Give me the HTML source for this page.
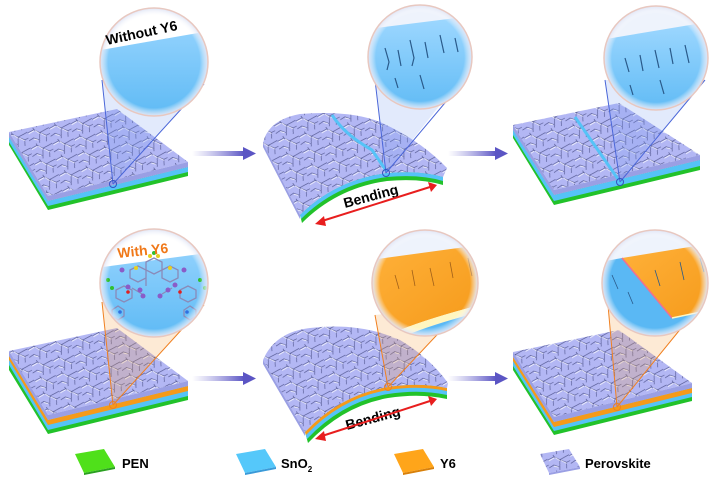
<!DOCTYPE html>
<html><head><meta charset="utf-8"><style>
html,body{margin:0;padding:0;background:#fff;}
svg{display:block;font-family:"Liberation Sans",Arial,sans-serif;}
</style></head><body>
<svg width="724" height="483" viewBox="0 0 724 483" xmlns="http://www.w3.org/2000/svg">
<defs>
<pattern id="crk" width="22" height="16" patternUnits="userSpaceOnUse" patternTransform="rotate(-12)">
<rect width="22" height="16" fill="#b3b7f4"/>
<path d="M0 4 L7 2 L12 6 L22 3 M7 2 L6 -1 M12 6 L10 16 M12 6 L18 10 L22 9 M18 10 L17 16 M0 12 L5 10 L10 13" stroke="#4a4f88" stroke-width="0.6" fill="none"/>
<path d="M1 5 L7 3 M13 7 L18 11 M5 11 L9 13 M8 3 L12 7" stroke="#fff" stroke-width="0.8" fill="none" opacity="0.9"/>
</pattern>
<linearGradient id="arr" x1="0" x2="1"><stop offset="0" stop-color="#8a86d8" stop-opacity="0"/><stop offset="1" stop-color="#5b55c4"/></linearGradient>
<linearGradient id="blu" x1="0" y1="0" x2="0" y2="1"><stop offset="0" stop-color="#9fd8ff"/><stop offset="1" stop-color="#5ab8f4"/></linearGradient>
<linearGradient id="org" x1="0" y1="0" x2="1" y2="1"><stop offset="0" stop-color="#ffb13a"/><stop offset="1" stop-color="#f59a1a"/></linearGradient>
<radialGradient id="lensrim" cx="0.5" cy="0.5" r="0.5"><stop offset="0.85" stop-color="#fff" stop-opacity="0"/><stop offset="1" stop-color="#dfe4f5"/></radialGradient>
<clipPath id="c1"><circle cx="154" cy="62" r="54"/></clipPath>
<clipPath id="c2"><circle cx="420" cy="57" r="52"/></clipPath>
<clipPath id="c3"><circle cx="656" cy="58" r="52"/></clipPath>
<clipPath id="c4"><circle cx="154" cy="283" r="54"/></clipPath>
<clipPath id="c5"><circle cx="425" cy="283" r="53"/></clipPath>
<clipPath id="c6"><circle cx="655" cy="283" r="53"/></clipPath>
</defs>

<!-- ===== ROW 1 ===== -->
<g transform="translate(0,4)">
<path d="M9 133 L48 197 L188 163 L188 172 L48 206 L9 141Z" fill="#22c22a"/>
<path d="M9 133 L48 197 L188 163 L188 168 L48 202 L9 138Z" fill="#55c3f7"/>
<path d="M9 128 L117 105 L188 158 L48 192Z" fill="url(#crk)"/>
<path d="M9 128 L48 192 L188 158 L188 163 L48 197 L9 133Z" fill="#9a9fe4"/>
</g>
<path d="M102 80 L113 184 L204 84" fill="#7da0f0" opacity="0.22"/>
<path d="M102 80 L113 184 M204 84 L113 184" stroke="#4a66d8" stroke-width="1"/>
<circle cx="113" cy="184" r="3.5" fill="none" stroke="#3550c0" stroke-width="1"/>
<g clip-path="url(#c1)"><rect x="95" y="5" width="120" height="120" fill="url(#blu)"/><path d="M95 5 L215 5 L215 30 L95 51Z" fill="#fff"/></g>
<circle cx="154" cy="62" r="54" fill="url(#lensrim)" stroke="#e8c8c0" stroke-width="1.5"/>
<text x="107" y="45" font-size="14" font-weight="bold" transform="rotate(-12 107 45)">Without Y6</text>
<rect x="192" y="151" width="52" height="5" fill="url(#arr)"/><path d="M243 147 L256 153.5 L243 160Z" fill="#5b55c4"/>

<!-- bent slab 2 -->
<path d="M300 215 Q335 180 387 173 Q420 170 443 177 L443 185 Q420 178 387 181 Q337 188 302 223Z" fill="#22c22a"/>
<path d="M300 215 Q335 180 387 173 Q420 170 443 177 L443 181 Q420 174 387 177 Q336 184 301 219Z" fill="#55c3f7"/>
<path d="M263 143 Q268 120 300 114 Q350 110 380 122 Q420 140 447 168 L443 177 Q420 170 387 173 Q335 180 300 215 Z" fill="url(#crk)"/>
<path d="M263 143 L300 215 L300 219 L263 147Z" fill="#9a9fe4"/>
<path d="M332 115 Q345 135 372 150 L387 172" stroke="#55c3f7" stroke-width="3" fill="none"/>
<path d="M375 80 L386 173 L460 80" fill="#7da0f0" opacity="0.22"/>
<path d="M375 80 L386 173 M460 85 L386 173" stroke="#4a66d8" stroke-width="1"/>
<circle cx="386" cy="173" r="3.5" fill="none" stroke="#3550c0"/>
<g clip-path="url(#c2)"><rect x="360" y="0" width="120" height="120" fill="#eef3fc"/><path d="M360 30 L480 15 L480 120 L360 120Z" fill="url(#blu)"/>
<path d="M385 48 l4 14 l-2 8 M398 50 l3 16 M410 40 l4 18 l-2 8 M425 42 l3 16 M440 35 l4 18 M455 38 l3 14 M395 78 l3 10 M420 75 l4 14" stroke="#2a5a8a" stroke-width="1.2" fill="none"/></g>
<circle cx="420" cy="57" r="52" fill="url(#lensrim)" stroke="#e8c8c0" stroke-width="1.5"/>
<text x="345" y="208" font-size="14" font-weight="bold" transform="rotate(-15 345 208)">Bending</text>
<path d="M322 221 L430 187" stroke="#e81e1e" stroke-width="2"/><path d="M315 224 L324 216 L326 226Z M437 185 L428 182 L431 192Z" fill="#e81e1e"/>
<rect x="448" y="151" width="48" height="5" fill="url(#arr)"/><path d="M495 147 L508 153.5 L495 160Z" fill="#5b55c4"/>

<!-- slab 3 -->
<g>
<path d="M513 130 L554 195 L700 160 L700 170 L554 205 L513 138Z" fill="#22c22a"/>
<path d="M513 130 L554 195 L700 160 L700 166 L554 201 L513 135Z" fill="#55c3f7"/>
<path d="M513 125 L619 103 L700 155 L554 190Z" fill="url(#crk)"/>
<path d="M513 125 L554 190 L700 155 L700 160 L554 195 L513 130Z" fill="#9a9fe4"/>
<path d="M575 117 L620 182" stroke="#55c3f7" stroke-width="3"/>
</g>
<path d="M605 80 L620 182 L705 80" fill="#7da0f0" opacity="0.22"/>
<path d="M605 80 L620 182 M705 80 L620 182" stroke="#4a66d8" stroke-width="1"/>
<circle cx="620" cy="182" r="3.5" fill="none" stroke="#3550c0"/>
<g clip-path="url(#c3)"><rect x="600" y="0" width="120" height="120" fill="#eef3fc"/><path d="M600 40 L720 20 L720 120 L600 120Z" fill="url(#blu)"/>
<path d="M625 58 l4 14 M640 55 l3 16 M655 50 l4 18 M670 48 l3 16 M685 45 l4 18 M630 85 l3 10 M660 80 l4 14" stroke="#2a5a8a" stroke-width="1.2" fill="none"/></g>
<circle cx="656" cy="58" r="52" fill="url(#lensrim)" stroke="#e8c8c0" stroke-width="1.5"/>

<!-- ===== ROW 2 ===== -->
<g transform="translate(0,8)">
<path d="M9 348 L48 412 L188 378 L188 392 L48 426 L9 362Z" fill="#22c22a"/>
<path d="M9 348 L48 412 L188 378 L188 388 L48 422 L9 357Z" fill="#55c3f7"/>
<path d="M9 348 L48 412 L188 378 L188 383 L48 417 L9 352Z" fill="#f59a1a"/>
<path d="M9 343 L117 320 L188 373 L48 407Z" fill="url(#crk)"/>
<path d="M9 343 L48 407 L188 373 L188 378 L48 412 L9 348Z" fill="#9a9fe4"/>
</g>
<path d="M102 302 L113 405 L204 305" fill="#f7a040" opacity="0.22"/>
<path d="M102 302 L113 405 M204 305 L113 405" stroke="#f08020" stroke-width="1"/>
<circle cx="113" cy="405" r="3.5" fill="none" stroke="#f08020"/>
<g clip-path="url(#c4)"><rect x="95" y="225" width="120" height="120" fill="url(#blu)"/><path d="M95 225 L215 225 L215 252 L95 268Z" fill="#fff"/>
<g stroke="#8a8ab8" stroke-width="1.3" fill="none">
<path d="M130 270 l8 -4 l8 4 l0 8 l-8 4 l-8 -4z M146 262 l8 -4 l8 4 l0 8 l-8 4 l-8 -4z M162 270 l8 -4 l8 4 l0 8 l-8 4 l-8 -4z M146 278 l0 8 M116 290 l8 -4 l8 4 l0 8 l-8 4 l-8 -4z M180 290 l8 -4 l8 4 l0 8 l-8 4 l-8 -4z M112 310 l6 -4 l6 4 l0 6 l-6 4 l-6 -4z M184 310 l6 -4 l6 4 l0 6 l-6 4 l-6 -4z M132 288 l10 6 M172 288 l-10 6"/>
</g>
<g fill="#8a5cc8"><circle cx="122" cy="270" r="2.5"/><circle cx="184" cy="270" r="2.5"/><circle cx="128" cy="287" r="2.5"/><circle cx="140" cy="290" r="2.5"/><circle cx="168" cy="290" r="2.5"/><circle cx="175" cy="285" r="2.5"/><circle cx="143" cy="296" r="2.5"/><circle cx="160" cy="296" r="2.5"/></g>
<g fill="#e8d020"><circle cx="150" cy="256" r="2"/><circle cx="158" cy="256" r="2"/><circle cx="136" cy="268" r="2"/><circle cx="170" cy="268" r="2"/></g>
<g fill="#30c030"><circle cx="154" cy="253" r="2"/><circle cx="108" cy="280" r="2"/><circle cx="112" cy="288" r="2"/><circle cx="200" cy="280" r="2"/><circle cx="205" cy="288" r="2"/></g>
<g fill="#e02020"><circle cx="128" cy="292" r="1.8"/><circle cx="180" cy="292" r="1.8"/></g>
<g fill="#3070e0"><circle cx="120" cy="312" r="1.8"/><circle cx="187" cy="312" r="1.8"/></g>
</g>
<circle cx="154" cy="283" r="54" fill="url(#lensrim)" stroke="#e8c8c0" stroke-width="1.5"/>
<text x="118" y="258" font-size="14" font-weight="bold" fill="#f07818" transform="rotate(-6 118 258)">With Y6</text>
<rect x="192" y="376" width="52" height="5" fill="url(#arr)"/><path d="M243 372 L256 378.5 L243 385Z" fill="#5b55c4"/>

<!-- bent slab row2 -->
<path d="M305 432 Q340 395 388 387 Q420 382 447 388 L447 399 Q420 393 388 398 Q343 406 308 443Z" fill="#22c22a"/>
<path d="M305 432 Q340 395 388 387 Q420 382 447 388 L447 395 Q420 389 388 394 Q342 402 307 439Z" fill="#55c3f7"/>
<path d="M305 432 Q340 395 388 387 Q420 382 447 388 L447 391 Q420 385 388 390 Q341 398 306 435Z" fill="#f59a1a"/>
<path d="M263 360 Q275 332 310 328 Q360 322 400 340 Q430 358 448 383 L447 388 Q420 382 388 387 Q340 395 305 432 Z" fill="url(#crk)"/>
<path d="M263 360 L305 432 L305 436 L263 364Z" fill="#9a9fe4"/>
<path d="M375 315 L388 387 L465 305" fill="#f7a040" opacity="0.22"/>
<path d="M375 315 L388 387 M465 305 L388 387" stroke="#f08020" stroke-width="1"/>
<circle cx="388" cy="387" r="3.5" fill="none" stroke="#f08020"/>
<g clip-path="url(#c5)"><rect x="370" y="228" width="120" height="120" fill="#eef3fc"/>
<path d="M370 260 L480 245 L480 305 Q430 318 400 330 L370 330Z" fill="url(#org)"/>
<path d="M400 330 Q430 318 480 305 L480 312 Q430 325 405 336Z" fill="#fff6c0"/>
<path d="M405 336 Q430 325 480 312 L480 340 L405 340Z" fill="#5ab8f4"/>
<path d="M395 275 l4 14 M412 270 l3 16 M430 268 l4 18 M450 262 l3 16 M468 258 l4 18" stroke="#a0601a" stroke-width="0.8" fill="none"/></g>
<circle cx="425" cy="283" r="53" fill="url(#lensrim)" stroke="#e8c8c0" stroke-width="1.5"/>
<text x="347" y="430" font-size="14" font-weight="bold" transform="rotate(-15 347 430)">Bending</text>
<path d="M322 436 L430 401" stroke="#e81e1e" stroke-width="2"/><path d="M315 439 L324 431 L326 441Z M437 399 L428 396 L431 406Z" fill="#e81e1e"/>
<rect x="448" y="376" width="48" height="5" fill="url(#arr)"/><path d="M495 372 L508 378.5 L495 385Z" fill="#5b55c4"/>

<!-- slab row2 right -->
<g>
<path d="M513 357 L554 422 L692 388 L692 401 L554 435 L513 370Z" fill="#22c22a"/>
<path d="M513 357 L554 422 L692 388 L692 397 L554 431 L513 366Z" fill="#55c3f7"/>
<path d="M513 357 L554 422 L692 388 L692 393 L554 427 L513 361Z" fill="#f59a1a"/>
<path d="M513 352 L619 330 L692 383 L554 417Z" fill="url(#crk)"/>
<path d="M513 352 L554 417 L692 383 L692 388 L554 422 L513 357Z" fill="#9a9fe4"/>
</g>
<path d="M608 305 L617 407 L700 305" fill="#f7a040" opacity="0.22"/>
<path d="M608 305 L617 407 M700 305 L617 407" stroke="#f08020" stroke-width="1"/>
<circle cx="617" cy="407" r="3.5" fill="none" stroke="#f08020"/>
<g clip-path="url(#c6)"><rect x="600" y="228" width="120" height="120" fill="#eef3fc"/>
<path d="M600 262 L622 258 L672 318 L720 308 L720 340 L600 340Z" fill="#5ab8f4"/>
<path d="M622 258 L720 242 L720 308 L672 318Z" fill="url(#org)"/>
<path d="M622 258 L672 318" stroke="#f07090" stroke-width="1.5"/>
<path d="M672 318 L720 308" stroke="#fff6c0" stroke-width="1.5"/>
<path d="M612 275 l6 14 M628 292 l5 12 M655 270 l5 16 M680 262 l4 18 M700 258 l4 14" stroke="#2a5a8a" stroke-width="0.8" fill="none"/></g>
<circle cx="655" cy="283" r="53" fill="url(#lensrim)" stroke="#e8c8c0" stroke-width="1.5"/>

<!-- ===== LEGEND ===== -->
<path d="M75 454 L104 449 L115 467 L84 473Z" fill="#4fe01a"/><path d="M84 473 L115 467 L115 469 L84 475Z" fill="#2aa020"/>
<text x="122" y="468" font-size="13" font-weight="bold">PEN</text>
<path d="M236 454 L265 449 L276 467 L245 473Z" fill="#55c8fa"/><path d="M245 473 L276 467 L276 469 L245 475Z" fill="#3a9ad8"/>
<text x="281" y="468" font-size="13" font-weight="bold">SnO<tspan font-size="8" dy="4">2</tspan></text>
<path d="M394 454 L423 449 L434 467 L403 473Z" fill="#ffa51a"/><path d="M403 473 L434 467 L434 469 L403 475Z" fill="#d8800a"/>
<text x="440" y="468" font-size="13" font-weight="bold">Y6</text>
<path d="M540 454 L569 449 L580 467 L549 473Z" fill="url(#crk)"/><path d="M549 473 L580 467 L580 469 L549 475Z" fill="#9a9fe4"/>
<text x="585" y="468" font-size="13" font-weight="bold">Perovskite</text>
</svg>
</body></html>
